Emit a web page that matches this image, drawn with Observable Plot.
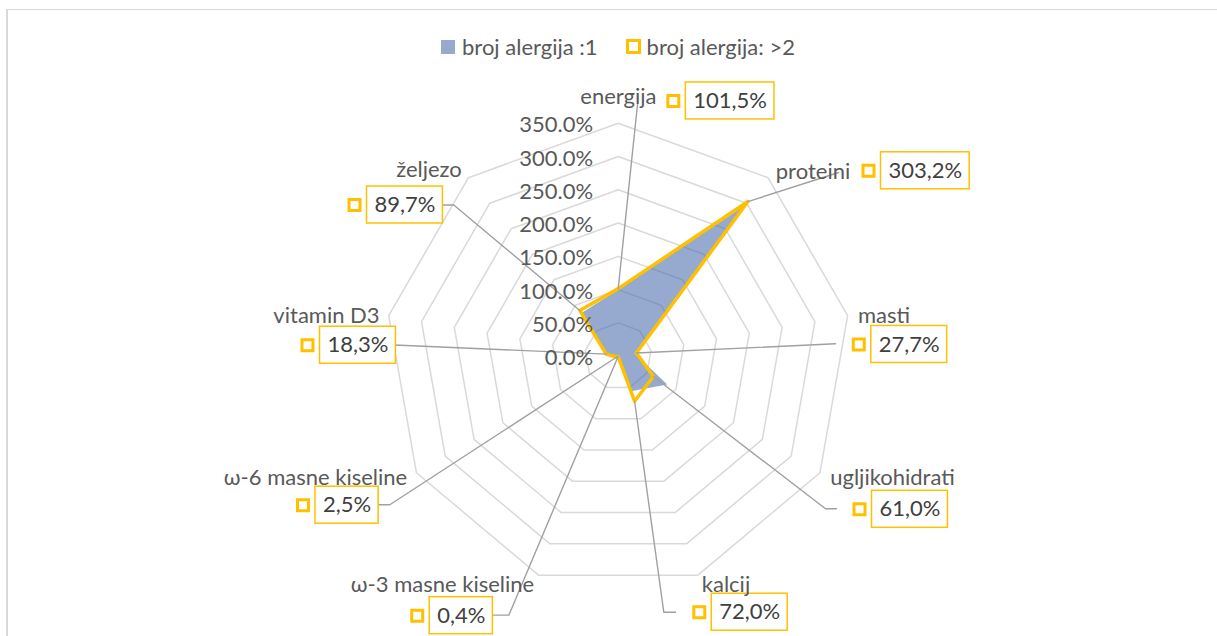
<!DOCTYPE html>
<html><head><meta charset="utf-8">
<script src="https://cdn.jsdelivr.net/npm/d3@7"></script>
<script src="https://cdn.jsdelivr.net/npm/@observablehq/plot@0.6"></script>
<style>
html,body{margin:0;padding:0;background:#fff;}
body{width:1217px;height:636px;position:relative;overflow:hidden;font-family:Lato,"Open Sans",sans-serif;}
#frame{position:absolute;left:6px;top:9px;width:1400px;height:800px;border-top:1.5px solid #d9d9d9;border-left:2px solid #d9d9d9;}
#legend{position:absolute;left:0;top:0;width:1217px;height:70px;}
.lg{position:absolute;top:33px;left:441px;display:flex;align-items:center;font-size:22px;color:#595959;white-space:nowrap;}
.sw1{width:14px;height:14px;background:#97a9cd;margin-right:7px;}
.sw2{width:9px;height:9px;border:3px solid #FFC000;margin-right:6px;margin-left:28px;}
#chart{position:absolute;left:0;top:70px;}
</style></head><body>
<div id="frame"></div>
<div id="legend"><div class="lg"><div class="sw1"></div><span id="l1"></span><div class="sw2"></div><span id="l2"></span></div></div>
<div id="chart"></div>
<script>
const categories = ["energija","proteini","masti","ugljikohidrati","kalcij","ω-3 masne kiseline","ω-6 masne kiseline","vitamin D3","željezo"];
const seriesNames = ["broj alergija :1","broj alergija: >2"];
const allergy1 = [100, 295, 25, 85, 56, 1, 2, 17, 85];
const allergy2 = [101.5, 303.2, 27.7, 61.0, 72.0, 0.4, 2.5, 18.3, 89.7];
const valueLabels = ["101,5%","303,2%","27,7%","61,0%","72,0%","0,4%","2,5%","18,3%","89,7%"];
const ringLevels = [50,100,150,200,250,300,350];
const tickLevels = [0,50,100,150,200,250,300,350];
const tickLabels = ["0.0%","50.0%","100.0%","150.0%","200.0%","250.0%","300.0%","350.0%"];

// label placement (in chart value units, same scales as the data)
const labelLayout = [
  {text:[0.3,389.2],    key:[82.8,383.4],   leader:[[29,378.1]]},
  {text:[292.6,276.6],  key:[376,278.5],    leader:[[331.1,275.9]]},
  {text:[399.3,61.1],   key:[361.4,17.6],   leader:[[326.4,18.6]]},
  {text:[412,-182.7],   key:[362.5,-230],   leader:[[311.4,-229.2],[327.9,-229.2]]},
  {text:[161.9,-343.9], key:[121.8,-384.6], leader:[[68.5,-384.6],[86.1,-384.6]]},
  {text:[-263.9,-343.9],key:[-301.9,-389.8],leader:[[-164.3,-389],[-189.6,-389]]},
  {text:[-454.7,-183.2],key:[-473.5,-223.8],leader:[[-343.1,-223.2],[-361.6,-223.2]]},
  {text:[-438.2,61.1],  key:[-466.7,16.5],  leader:[[-336,16.8]]},
  {text:[-284.2,280],   key:[-396.1,227.1], leader:[[-247,227.1],[-263.5,227.1]]}
];

document.getElementById("l1").textContent = seriesNames[0];
document.getElementById("l2").textContent = seriesNames[1];

const FONT = "Lato";
const FS = 22;
const W = 1217, H = 566, CX = 617.7, CY = 285.7, RPX = 233;
const k = RPX / d3.max(ringLevels);
const n = categories.length;
const ang = i => i * 2 * Math.PI / n;
const pt = (v, i) => [v * Math.sin(ang(i)), v * Math.cos(ang(i))];

const rings = ringLevels.flatMap(l => categories.map((c, i) => { const [x, y] = pt(l, i); return {level: l, x, y}; }));
const s1 = categories.map((c, i) => { const [x, y] = pt(allergy1[i], i); return {cat: c, x, y}; });
const s2 = categories.map((c, i) => { const [x, y] = pt(allergy2[i], i); return {cat: c, x, y}; });
const leaders = categories.flatMap((c, i) => [
  {cat: c, x: s2[i].x, y: s2[i].y},
  ...labelLayout[i].leader.map(([x, y]) => ({cat: c, x, y}))
]);
const ticks = tickLevels.map((l, i) => ({y: l, label: tickLabels[i]}));

const ctx = document.createElement("canvas").getContext("2d");
ctx.font = `${FS}px ${FONT}`;

const labelMarks = [];
categories.forEach((c, i) => {
  const L = labelLayout[i];
  const d = [{cat: c, kx: L.key[0], ky: L.key[1], tx: L.text[0], ty: L.text[1], val: valueLabels[i]}];
  const tw = ctx.measureText(valueLabels[i]).width;
  const bw = tw + 15;
  labelMarks.push(
    Plot.rect(d, {x1: "kx", x2: "kx", y1: "ky", y2: "ky", insetLeft: 12.5, insetRight: -(12.5 + bw), insetTop: -18.5, insetBottom: -18.5, fill: "white", stroke: "#FFC000", strokeWidth: 1.5}),
    Plot.dot(d, {x: "kx", y: "ky", symbol: "square", r: 6.2, fill: "white", stroke: "#FFC000", strokeWidth: 3}),
    Plot.text(d, {x: "kx", y: "ky", text: "val", dx: 12.5 + bw / 2, fill: "#404040", fontSize: FS, fontFamily: FONT}),
    Plot.text(d, {x: "tx", y: "ty", text: "cat", fill: "#595959", fontSize: FS, fontFamily: FONT})
  );
});

const chart = Plot.plot({
  width: W, height: H,
  margin: 0,
  x: {domain: [-CX / k, (W - CX) / k], axis: null},
  y: {domain: [-(H - CY) / k, CY / k], axis: null},
  style: {fontFamily: FONT, fontSize: FS + "px", background: "transparent"},
  marks: [
    Plot.line(rings, {x: "x", y: "y", z: "level", curve: "linear-closed", stroke: "#d9d9d9", strokeWidth: 1.5}),
    Plot.line(s1, {x: "x", y: "y", curve: "linear-closed", fill: "rgb(70,105,170)", fillOpacity: 0.57, stroke: "none"}),
    Plot.line(s2, {x: "x", y: "y", curve: "linear-closed", fill: "none", stroke: "#FFC000", strokeWidth: 3.5, strokeLinejoin: "round"}),
    Plot.line(leaders, {x: "x", y: "y", z: "cat", stroke: "#a0a0a0", strokeWidth: 1.4}),
    Plot.text(ticks, {x: () => 0, y: "y", text: "label", dx: -25, dy: 2, textAnchor: "end", fill: "#595959", fontSize: FS, fontFamily: FONT}),
    ...labelMarks
  ]
});
document.getElementById("chart").appendChild(chart);
</script>
</body></html>
